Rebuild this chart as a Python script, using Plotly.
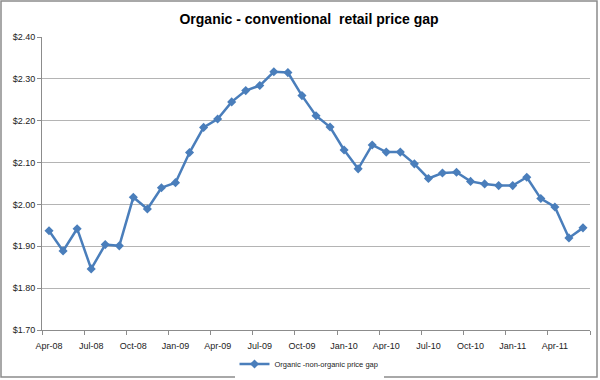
import plotly.graph_objects as go

months = ["Apr-08","May-08","Jun-08","Jul-08","Aug-08","Sep-08","Oct-08","Nov-08","Dec-08",
          "Jan-09","Feb-09","Mar-09","Apr-09","May-09","Jun-09","Jul-09","Aug-09","Sep-09",
          "Oct-09","Nov-09","Dec-09","Jan-10","Feb-10","Mar-10","Apr-10","May-10","Jun-10",
          "Jul-10","Aug-10","Sep-10","Oct-10","Nov-10","Dec-10","Jan-11","Feb-11","Mar-11",
          "Apr-11","May-11","Jun-11"]
price_gap = [1.937, 1.889, 1.942, 1.846, 1.904, 1.901, 2.017, 1.989, 2.040,
             2.052, 2.124, 2.184, 2.204, 2.245, 2.272, 2.284, 2.317, 2.315,
             2.260, 2.212, 2.185, 2.130, 2.085, 2.142, 2.125, 2.125, 2.097,
             2.062, 2.075, 2.077, 2.055, 2.049, 2.045, 2.045, 2.065, 2.014,
             1.994, 1.920, 1.944]
y_ticks = [1.70, 1.80, 1.90, 2.00, 2.10, 2.20, 2.30, 2.40]

idx = list(range(len(months)))
label_idx = idx[::3]
label_txt = [months[i] for i in label_idx]
boundaries = [i - 0.5 for i in idx[::3]] + [len(months) - 0.5]

W, H = 600, 380
ml, mr, mt, mb = 42, 10, 37, 50

fig = go.Figure()
fig.add_trace(go.Scatter(
    x=idx, y=price_gap, mode="lines+markers",
    name="Organic -non-organic price gap",
    line=dict(color="#4A7EBB", width=2.5),
    marker=dict(symbol="diamond", size=7, color="#4A7EBB"),
))

pw = W - ml - mr
ph = H - mt - mb
fig.add_shape(type="rect", xref="paper", yref="paper",
              x0=(1 - ml) / pw, x1=(W - ml - 3) / pw,
              y0=-(H - mt - 3 - ph) / ph, y1=(mt - 1) / ph + 1,
              line=dict(color="#8c8c8c", width=1.5), layer="below")

fig.update_layout(
    width=W, height=H,
    margin=dict(l=ml, r=mr, t=mt, b=mb, autoexpand=False),
    paper_bgcolor="white", plot_bgcolor="white",
    title=dict(text="<b>Organic - conventional  retail price gap</b>",
               x=0.515, xanchor="center", y=0.95, yanchor="middle",
               font=dict(family="Liberation Sans, Arial", size=14, color="black")),
    font=dict(family="Liberation Sans, Arial", color="#222222"),
    showlegend=True,
    legend=dict(orientation="h", xref="container", x=0.515, xanchor="center",
                yref="container", y=0.042, yanchor="middle",
                font=dict(size=7.5, color="#222222"), itemwidth=30),
    xaxis=dict(range=[-0.5, len(months) - 0.5], tickmode="array",
               tickvals=label_idx, ticktext=label_txt, ticks="",
               ticklabelstandoff=7,
               showgrid=False, showline=True, linecolor="#8c8c8c", linewidth=1,
               tickfont=dict(size=9, color="#222222"), zeroline=False,
               minor=dict(tickmode="array", tickvals=boundaries, ticks="outside",
                          ticklen=4, tickcolor="#8c8c8c", showgrid=False)),
    yaxis=dict(range=[1.70, 2.40], tickmode="array", tickvals=y_ticks,
               tickformat="$.2f", ticks="outside", ticklen=4, tickcolor="#8c8c8c",
               showgrid=True, gridcolor="#b4b4b4", gridwidth=1,
               showline=True, linecolor="#8c8c8c", linewidth=1,
               tickfont=dict(size=9, color="#222222"), zeroline=False),
)

fig.write_html("out.html", config={"displayModeBar": False},
               post_script="document.body.style.margin='0';document.body.style.overflow='hidden';")
